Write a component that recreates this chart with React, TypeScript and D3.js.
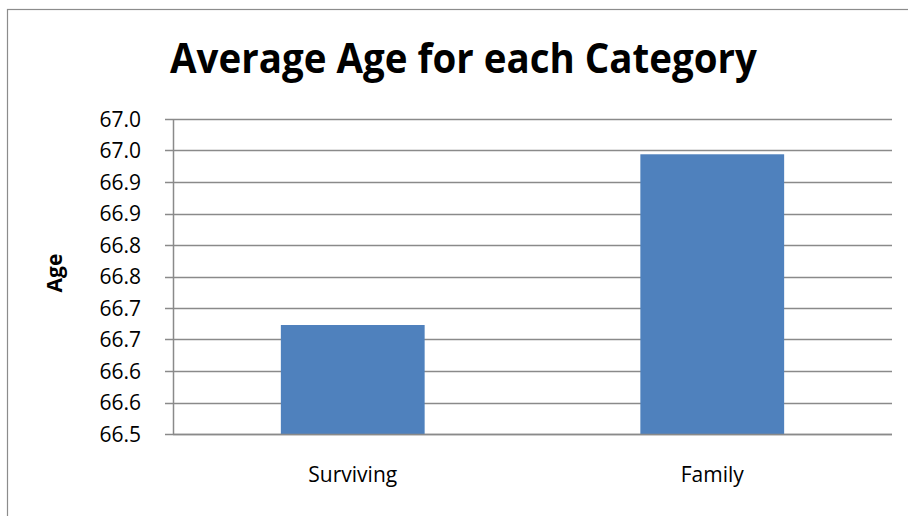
import React from "react";
import * as d3 from "d3";

const categories = ["Surviving", "Family"];
const averageAge = [66.673, 66.944];
const tickValues = [66.5, 66.55, 66.6, 66.65, 66.7, 66.75, 66.8, 66.85, 66.9, 66.95, 67.0];
const tickLabels = ["66.5", "66.6", "66.6", "66.7", "66.7", "66.8", "66.8", "66.9", "66.9", "67.0", "67.0"];

const W = 908;
const H = 516;
const plot = { left: 173, right: 892, top: 119, bottom: 434 };
const FONT = "'Open Sans', 'Liberation Sans', sans-serif";

export default function App() {
  const x = d3
    .scaleBand<string>()
    .domain(categories)
    .range([plot.left, plot.right])
    .paddingInner(0.6)
    .paddingOuter(0.3);
  const y = d3.scaleLinear().domain([66.5, 67.0]).range([plot.bottom, plot.top]);
  const grid = "#8a8a8a";

  return (
    <svg
      width={W}
      height={H}
      style={{ position: "absolute", left: 0, top: 0, background: "#fff" }}
    >
      <rect x={7.5} y={9.5} width={W + 20} height={H + 20} fill="#fff" stroke="#8c8c8c" strokeWidth={1.2} />
      <text
        x={463.5}
        y={73}
        textAnchor="middle"
        fontFamily={FONT}
        fontWeight="bold"
        fontSize={41}
        textLength={587}
        lengthAdjust="spacingAndGlyphs"
        fill="#000"
      >
        Average Age for each Category
      </text>
      {tickValues.map((v, i) => (
        <g key={i}>
          <line
            x1={plot.left - 8}
            x2={plot.right}
            y1={Math.round(y(v)) + 0.5}
            y2={Math.round(y(v)) + 0.5}
            stroke={grid}
            strokeWidth={1.3}
          />
          <text
            x={141}
            y={y(v)}
            dy="0.36em"
            textAnchor="end"
            fontFamily={FONT}
            fontSize={21}
            fill="#000"
          >
            {tickLabels[i]}
          </text>
        </g>
      ))}
      <line x1={plot.left + 0.5} x2={plot.left + 0.5} y1={plot.top} y2={plot.bottom} stroke={grid} strokeWidth={1.5} />
      {categories.map((c, i) => (
        <g key={c}>
          <rect
            x={x(c)!}
            y={y(averageAge[i])}
            width={x.bandwidth()}
            height={plot.bottom - y(averageAge[i])}
            fill="#4F81BD"
          />
          <text
            x={x(c)! + x.bandwidth() / 2}
            y={482}
            textAnchor="middle"
            fontFamily={FONT}
            fontSize={21}
            fill="#000"
          >
            {c}
          </text>
        </g>
      ))}
      <line x1={plot.left} x2={plot.right} y1={plot.bottom + 0.5} y2={plot.bottom + 0.5} stroke={grid} strokeWidth={1.6} />
      <text
        transform={`translate(62,273) rotate(-90)`}
        textAnchor="middle"
        fontFamily={FONT}
        fontWeight="bold"
        fontSize={21}
        fill="#000"
      >
        Age
      </text>
    </svg>
  );
}
